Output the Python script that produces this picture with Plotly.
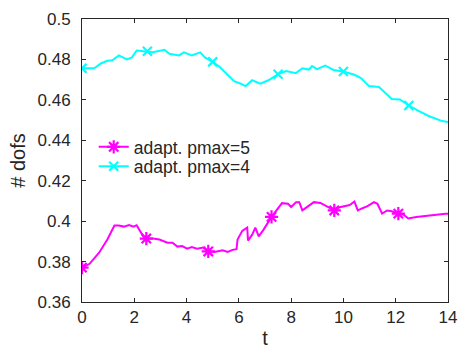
import plotly.graph_objects as go

# adapt. pmax=5 (magenta)
t_p5 = [0.0, 0.29, 0.66, 0.97, 1.24, 1.4, 1.6, 1.8, 1.97, 2.09, 2.34, 2.46, 2.71, 2.96,
        3.27, 3.46, 3.65, 3.83, 4.02, 4.2, 4.4, 4.64, 4.83, 5.07, 5.38, 5.57, 5.76, 5.91,
        5.95, 6.13, 6.32, 6.35, 6.51, 6.63, 6.76, 6.94, 7.25, 7.44, 7.65, 7.88, 8.0, 8.19,
        8.31, 8.43, 8.68, 8.87, 9.12, 9.3, 9.49, 9.65, 9.86, 10.11, 10.24, 10.42, 10.55,
        10.73, 10.92, 11.17, 11.3, 11.48, 11.67, 11.85, 12.1, 12.29, 12.48, 12.79, 13.16,
        13.53, 13.9, 14.0]
dofs_p5 = [0.377, 0.3789, 0.3845, 0.3909, 0.3978, 0.3978, 0.3973, 0.3981, 0.3973, 0.398,
           0.3925, 0.3914, 0.3914, 0.3909, 0.3893, 0.3893, 0.3874, 0.3877, 0.3864, 0.3872,
           0.3864, 0.3869, 0.385, 0.3848, 0.3856, 0.3848, 0.3858, 0.3861, 0.3909, 0.3952,
           0.3968, 0.3904, 0.3933, 0.3968, 0.3925, 0.3957, 0.4021, 0.4053, 0.4089, 0.4086,
           0.407, 0.4094, 0.4094, 0.4053, 0.4077, 0.4094, 0.409, 0.4077, 0.4066, 0.4053,
           0.4069, 0.4074, 0.408, 0.4097, 0.4053, 0.4064, 0.4074, 0.4094, 0.4086, 0.4037,
           0.4053, 0.4049, 0.4037, 0.4033, 0.4013, 0.4021, 0.4026, 0.4034, 0.4036, 0.4036]
marks_p5 = [0, 11, 22, 36, 49, 62]

# adapt. pmax=4 (cyan)
t_p4 = [0.0, 0.47, 0.72, 0.97, 1.16, 1.41, 1.72, 1.91, 2.09, 2.5, 2.71, 3.15, 3.34, 3.71,
        3.9, 4.2, 4.52, 4.7, 5.0, 5.26, 5.57, 5.82, 6.07, 6.26, 6.51, 6.82, 7.13, 7.5,
        7.81, 8.18, 8.43, 8.68, 8.8, 8.99, 9.3, 9.62, 10.0, 10.42, 10.67, 10.98, 11.36,
        11.85, 12.16, 12.5, 12.91, 13.28, 13.78, 14.0]
dofs_p4 = [0.4756, 0.4756, 0.478, 0.4793, 0.4796, 0.482, 0.480, 0.481, 0.4844, 0.484,
           0.4835, 0.4848, 0.4828, 0.482, 0.4835, 0.482, 0.4835, 0.481, 0.4788, 0.4764,
           0.4724, 0.4692, 0.468, 0.4668, 0.4697, 0.468, 0.4697, 0.4727, 0.4743, 0.4732,
           0.4756, 0.475, 0.4767, 0.4752, 0.477, 0.4748, 0.474, 0.4724, 0.4708, 0.4668,
           0.4664, 0.4604, 0.4602, 0.4572, 0.4543, 0.4519, 0.4495, 0.449]
marks_p4 = [0, 9, 18, 27, 36, 43]

x_ticks = [0, 2, 4, 6, 8, 10, 12, 14]
y_ticks = [0.36, 0.38, 0.40, 0.42, 0.44, 0.46, 0.48, 0.50]
y_tick_text = ["0.36", "0.38", "0.4", "0.42", "0.44", "0.46", "0.48", "0.5"]

MAGENTA = "#ff00ff"
CYAN = "#00ffff"
INK = "#262626"

# each series gets its own legend box so the two rows sit closely stacked
series = [
    ("adapt. pmax=5", t_p5, dofs_p5, marks_p5, MAGENTA, "asterisk-open", 11, "legend", 0.548),
    ("adapt. pmax=4", t_p4, dofs_p4, marks_p4, CYAN, "x-thin-open", 9, "legend2", 0.479),
]

fig = go.Figure()
legend_layout = {}
for name, t, d, marks, color, symbol, size, leg, leg_y in series:
    marker = dict(symbol=symbol, size=size, color=color, line=dict(color=color, width=2.2))
    fig.add_trace(go.Scatter(x=t, y=d, mode="lines", line=dict(color=color, width=2),
                             showlegend=False, hoverinfo="skip"))
    fig.add_trace(go.Scatter(x=[t[i] for i in marks], y=[d[i] for i in marks],
                             mode="markers", marker=marker, showlegend=False))
    fig.add_trace(go.Scatter(x=[None], y=[None], mode="lines+markers", name=name,
                             line=dict(color=color, width=2), marker=marker, legend=leg))
    legend_layout[leg] = dict(x=0.032, y=leg_y, xanchor="left", yanchor="middle",
                              bgcolor="rgba(0,0,0,0)", borderwidth=0,
                              font=dict(family="Liberation Sans", size=17.5, color=INK))

axis_common = dict(
    showline=True, linecolor=INK, linewidth=1, mirror="ticks",
    ticks="inside", ticklen=4, tickcolor=INK, showgrid=False, zeroline=False,
    tickfont=dict(family="Liberation Sans", size=17, color=INK),
)

fig.update_layout(
    width=467, height=356,
    margin=dict(l=82, r=10, t=11, b=54),
    paper_bgcolor="white", plot_bgcolor="white",
    font=dict(family="Liberation Sans", size=17, color=INK),
    xaxis=dict(range=[0, 14], tickvals=x_ticks, title=dict(text="t", standoff=4),
               **axis_common),
    yaxis=dict(range=[0.36, 0.5], tickvals=y_ticks, ticktext=y_tick_text,
               ticklabelstandoff=7, title=dict(text="# dofs", standoff=6), **axis_common),
    **legend_layout,
)

fig.write_html("out.html")
